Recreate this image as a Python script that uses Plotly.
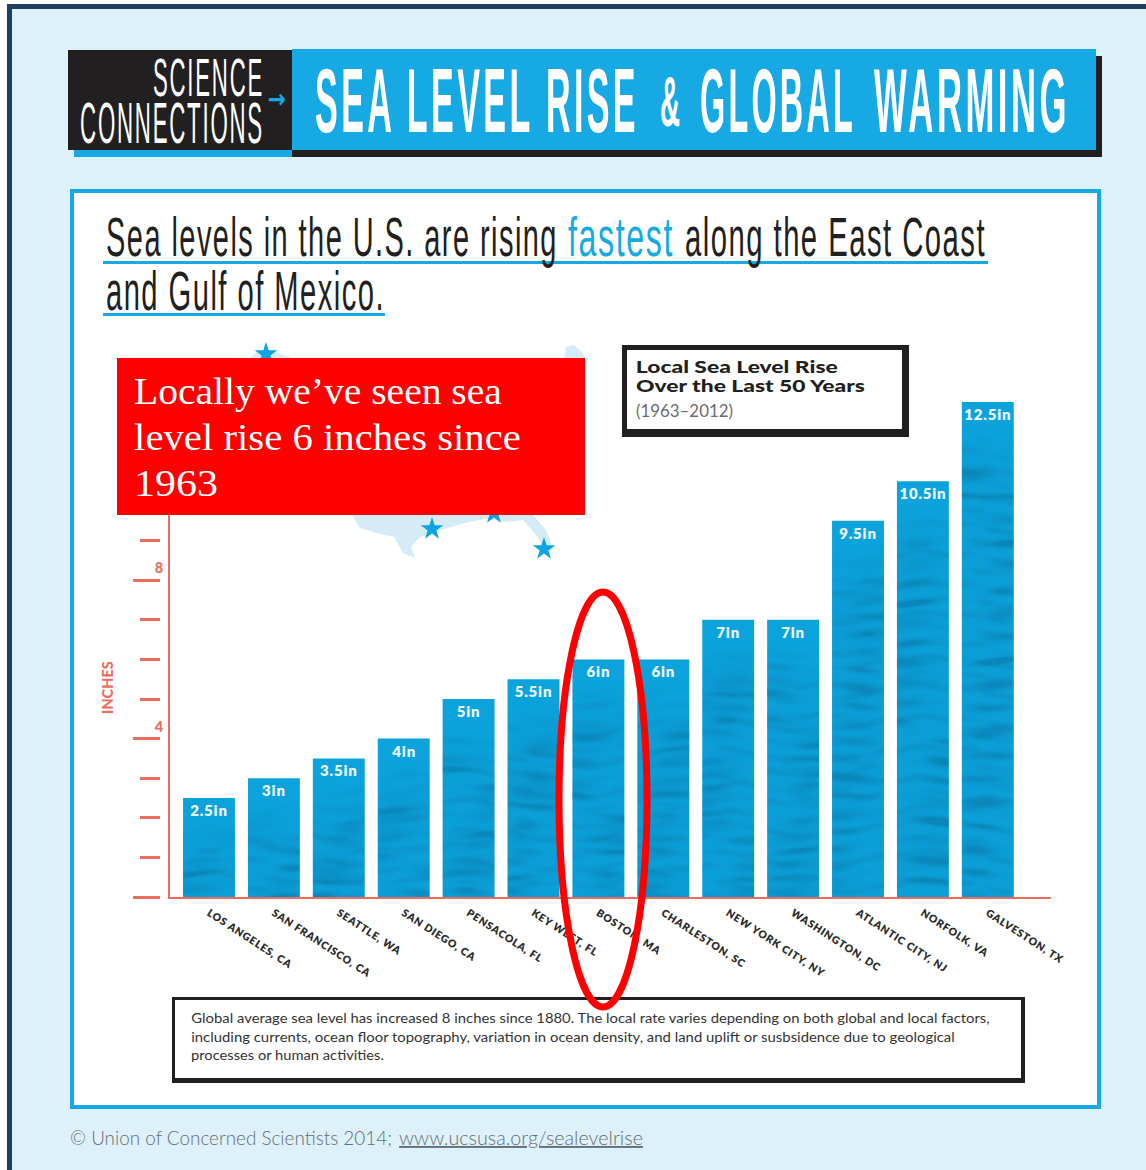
import base64
import json
import struct
import zlib

import numpy as np
import plotly.graph_objects as go

W, H = 1146, 1170

# Chart values
cities = ["LOS ANGELES, CA", "SAN FRANCISCO, CA", "SEATTLE, WA", "SAN DIEGO, CA", "PENSACOLA, FL",
          "KEY WEST, FL", "BOSTON, MA", "CHARLESTON, SC", "NEW YORK CITY, NY", "WASHINGTON, DC",
          "ATLANTIC CITY, NJ", "NORFOLK, VA", "GALVESTON, TX"]
rise_inches = [2.5, 3, 3.5, 4, 5, 5.5, 6, 6, 7, 7, 9.5, 10.5, 12.5]
major_ticks = [0, 4, 8, 12]
major_labels = ["", "4", "8", ""]

# Station markers on the backdrop map, in page pixels
star_x = [266, 432, 494, 544]
star_y = [354, 529, 513, 549]

# Palette
NAVY = "#1f3d63"
PAGE = "#ddf1fb"
CYAN = "#16a9e3"
BAR = "#0ca3dc"
INK = "#211f20"
CORAL = "#ee6b5f"
MAP = "#d5ebf7"
RED = "#ff0000"

NARROW = "Liberation Sans Narrow, Liberation Sans, sans-serif"
SANS = "Lato, sans-serif"
SERIF = "Liberation Serif, serif"


def px(x):
    return x / W


def py(y):
    return 1 - y / H


def rect(x0, y0, x1, y1, fill, layer="below", line=None, lw=0):
    return dict(type="rect", xref="paper", yref="paper", x0=px(x0), x1=px(x1), y0=py(y0), y1=py(y1),
                fillcolor=fill, line=dict(color=line or fill, width=lw), layer=layer)


def poly(points, fill):
    d = "M" + " L".join(f"{px(a):.5f},{py(b):.5f}" for a, b in points) + " Z"
    return dict(type="path", xref="paper", yref="paper", path=d, fillcolor=fill, line=dict(width=0), layer="below")


shapes = [
    rect(7, 5, W + 5, H + 5, PAGE),
    rect(7, 4, W + 5, 9, NAVY),
    rect(7, 4, 12, H + 5, NAVY),
    # masthead
    rect(74, 100, 292, 157, CYAN),
    rect(292, 56, 1102, 157, INK),
    rect(68, 50, 292, 150, INK),
    rect(292, 49, 1096, 150, CYAN),
    # panel
    rect(72, 191, 1099, 1107, "white", line=CYAN, lw=4),
    # heading rules
    rect(103, 261, 988, 264, CYAN),
    rect(103, 313, 385, 316, CYAN),
    # backdrop map fragments
    poly([(250, 358), (258, 351), (275, 352), (292, 358)], MAP),
    poly([(564, 358), (566, 347), (574, 345), (580, 350), (586, 358)], MAP),
    poly([(352, 515), (360, 528), (377, 533), (394, 537), (403, 553), (415, 558), (411, 547),
          (420, 537), (441, 530), (465, 523), (485, 519), (506, 522), (523, 520), (536, 535),
          (549, 555), (553, 548), (546, 530), (533, 515)], MAP),
    # legend frame
    rect(622, 345, 909, 437, INK),
    rect(627, 350, 902, 429, "white"),
    # note frame
    rect(172, 997, 1025, 1083, INK),
    rect(175, 1000, 1021, 1078, "white"),
    # callout and highlight drawn over the chart
    rect(117, 358, 585, 515, RED, layer="above"),
    dict(type="circle", xref="paper", yref="paper", x0=px(559), x1=px(647), y0=py(1007), y1=py(592),
         line=dict(color=RED, width=7), fillcolor="rgba(0,0,0,0)", layer="above"),
]

annotations = []
squeeze = {}
tracking = {}


def label(text, x0, x1, yc, size, color, family, weight=400, track=None, under=False):
    """Place text in the box x0..x1, scaled horizontally to exactly that width."""
    idx = len(annotations)
    squeeze[idx] = x1 - x0
    if track:
        tracking[idx] = track
    font = dict(size=size, color=color, family=family, weight=weight)
    if under:
        font["lineposition"] = "under"
    annotations.append(dict(text=text, xref="paper", yref="paper", x=px((x0 + x1) / 2), y=py(yc),
                            xanchor="center", yanchor="middle", showarrow=False, font=font,
                            width=x1 - x0 + 4, align="center"))


# Masthead
label("SCIENCE", 153, 264, 77, 54, "white", NARROW, track="0.08em")
label("CONNECTIONS", 80, 264, 123, 58, "white", NARROW, track="0.08em")
label("→", 268, 286, 99, 26, CYAN, "DejaVu Sans", 700)
label("SEA LEVEL RISE", 315, 639, 101, 90, "white", NARROW, 700, track="0.1em")
label("&amp;", 660, 680, 102, 70, "white", NARROW, 700)
label("GLOBAL", 700, 856, 101, 90, "white", NARROW, 700, track="0.1em")
label("WARMING", 874, 1070, 101, 90, "white", NARROW, 700, track="0.1em")

# Heading
label("Sea levels in the U.S. are rising", 106, 558, 237, 55, INK, NARROW, track="0.05em")
label("fastest", 568, 674, 237, 55, CYAN, NARROW, track="0.05em")
label("along the East Coast", 685, 986, 237, 55, INK, NARROW, track="0.05em")
label("and Gulf of Mexico.", 106, 385, 291, 55, INK, NARROW, track="0.05em")

# Callout
label("Locally we’ve seen sea", 134, 502, 391, 38, "white", SERIF)
label("level rise 6 inches since", 134, 521, 437, 38, "white", SERIF)
label("1963", 134, 218, 483, 38, "white", SERIF)

# Legend box
label("Local Sea Level Rise", 636, 838, 366, 16, INK, SANS, 900)
label("Over the Last 50 Years", 636, 865, 386, 16, INK, SANS, 900)
label("(1963–2012)", 636, 733, 410, 17, "#6c6c6c", SANS, 400)

# Axis caption
annotations.append(dict(text="INCHES", xref="paper", yref="paper", x=px(107), y=py(688), textangle=-90,
                        xanchor="center", yanchor="middle", showarrow=False,
                        font=dict(size=14.5, color=CORAL, family=SANS, weight=900)))

# Note box
label("Global average sea level has increased 8 inches since 1880. The local rate varies depending on both global and local factors,",
      191, 990, 1018, 13.5, "#333333", SANS)
label("including currents, ocean floor topography, variation in ocean density, and land uplift or susbsidence due to geological",
      191, 955, 1037, 13.5, "#333333", SANS)
label("processes or human activities.", 191, 384, 1055, 13.5, "#333333", SANS)

# Footer
label("© Union of Concerned Scientists 2014;", 70, 392, 1137, 19, "#666d72", SANS, 300)
label("www.ucsusa.org/sealevelrise", 399, 643, 1137, 19, "#666d72", SANS, 300, under=True)


def water_png(width, height, seed):
    """RGBA overlay of soft dark swells, fading in below the top of a bar."""
    yy, xx = np.mgrid[0:height, 0:width].astype(float)
    s = seed * 1.7
    ripple = (np.sin(yy * 0.42 + 1.8 * np.sin(xx * 0.06 + s) + s * 2.1)
              + 0.7 * np.sin(yy * 0.19 + xx * 0.03 + 1.4 * np.sin(xx * 0.09 - s)))
    field = 0.22 * np.clip(ripple, 0, None)
    # Lens-shaped troughs spread along a golden-ratio sequence
    for k in range(int(height / 16) + 2):
        cx = ((k * 0.618 + seed * 0.37) % 1) * width
        cy = ((k * 0.381 + seed * 0.23) % 1) * height
        rx = 14 + 16 * ((k * 0.755) % 1)
        ry = 2.5 + 4.5 * ((k * 0.569) % 1)
        tilt = 0.12 * np.sin(k * 2.4)
        field = field + (0.35 + 0.65 * ((k * 0.43) % 1)) * np.exp(
            -((xx - cx) / rx) ** 2 - ((yy - cy - tilt * (xx - cx)) / ry) ** 2)
    fade = np.clip((yy - 20) / 50, 0, 1)
    alpha = np.clip(field, 0, 1) * 80 * fade + 14 * fade
    rgba = np.zeros((height, width, 4), dtype=np.uint8)
    rgba[..., 0], rgba[..., 1], rgba[..., 2] = 6, 88, 130
    rgba[..., 3] = alpha.astype(np.uint8)
    raw = b"".join(b"\x00" + rgba[r].tobytes() for r in range(height))

    def chunk(tag, body):
        return struct.pack(">I", len(body)) + tag + body + struct.pack(">I", zlib.crc32(tag + body))

    png = (b"\x89PNG\r\n\x1a\n"
           + chunk(b"IHDR", struct.pack(">IIBBBBB", width, height, 8, 6, 0, 0, 0))
           + chunk(b"IDAT", zlib.compress(raw, 9))
           + chunk(b"IEND", b""))
    return "data:image/png;base64," + base64.b64encode(png).decode()


PX_PER_INCH = 39.6
BAR_SHARE = 0.8
positions = list(range(len(cities)))

images = [dict(source=water_png(52, int(round(v * PX_PER_INCH)), i), xref="x", yref="y",
               x=i - BAR_SHARE / 2, y=v, sizex=BAR_SHARE, sizey=v, xanchor="left", yanchor="top",
               sizing="stretch", layer="above")
          for i, v in enumerate(rise_inches)]

fig = go.Figure()
fig.add_bar(x=positions, y=rise_inches, width=BAR_SHARE, marker=dict(color=BAR, line=dict(width=0)),
            texttemplate="%{y}in", textposition="inside", insidetextanchor="end", textangle=0,
            constraintext="none", cliponaxis=False,
            textfont=dict(size=15, color="#e9f7fd", family=SANS, weight=800), hoverinfo="skip")
# Carries the detached tick ruler to the left of the axis line
fig.add_scatter(x=positions, y=rise_inches, yaxis="y2", mode="lines", line=dict(width=0),
                opacity=0, hoverinfo="skip")
fig.add_scatter(x=star_x, y=star_y, xaxis="x3", yaxis="y3", mode="markers", hoverinfo="skip",
                marker=dict(symbol="star", size=17, color="#0ea4e4", line=dict(width=0)))

top_inches = 12.8
y_dom = [py(897), py(897 - top_inches * PX_PER_INCH)]
fig.update_layout(
    width=W, height=H, margin=dict(l=0, r=0, t=0, b=0, autoexpand=False), autosize=False,
    paper_bgcolor="white", plot_bgcolor="rgba(0,0,0,0)", showlegend=False, barmode="overlay",
    shapes=shapes, annotations=annotations, images=images,
    xaxis=dict(domain=[px(170), px(1051)], range=[(170 - 209) / 64.9, (1051 - 209) / 64.9],
               automargin=False, tickmode="array", tickvals=positions, ticktext=cities, tickangle=33,
               ticks="", ticklabelstandoff=4, showgrid=False, zeroline=False, showline=True,
               linecolor=CORAL, linewidth=2,
               tickfont=dict(size=10.5, color="#2b2b2b", family=SANS, weight=800)),
    yaxis=dict(domain=y_dom, range=[0, top_inches], automargin=False, showgrid=False, zeroline=False,
               showline=True, linecolor=CORAL, linewidth=2, ticks="", showticklabels=False),
    yaxis2=dict(domain=y_dom, range=[0, top_inches], overlaying="y", anchor="free", position=px(160),
                automargin=False, side="left", showgrid=False, zeroline=False, showline=False,
                tickmode="array", tickvals=major_ticks, ticktext=major_labels, ticks="outside",
                ticklen=27, tickwidth=2.5, tickcolor=CORAL, ticklabelstandoff=-33, ticklabelshift=-12,
                tickfont=dict(size=14.5, color=CORAL, family=SANS, weight=900),
                minor=dict(tickmode="linear", tick0=0, dtick=1, ticks="outside", ticklen=20,
                           tickwidth=2.5, tickcolor=CORAL, showgrid=False)),
    xaxis3=dict(domain=[0, 1], range=[0, W], visible=False, anchor="y3", automargin=False),
    yaxis3=dict(domain=[0, 1], range=[H, 0], visible=False, anchor="x3", automargin=False),
)

# Fine lettering adjustments once the page has been laid out
post = """
var gd = document.getElementById('{plot_id}');
var fit = %s, track = %s;
gd.querySelectorAll('.annotation [clip-path]').forEach(function (n) {
  n.removeAttribute('clip-path');
});
Object.keys(fit).forEach(function (i) {
  var t = gd.querySelector('.annotation[data-index="' + i + '"] text');
  if (!t) return;
  if (track[i]) t.style.letterSpacing = track[i];
  var cx = parseFloat(t.getAttribute('x')) || 0;
  var sx = fit[i] / t.getComputedTextLength();
  t.setAttribute('transform', 'translate(' + cx + ' 0) scale(' + sx + ' 1) translate(' + (-cx) + ' 0)');
});
gd.querySelectorAll('.xtick text').forEach(function (t) {
  t.style.letterSpacing = '0.75px';
});
gd.querySelectorAll('.bars text').forEach(function (t) {
  t.style.letterSpacing = '0.8px';
});
""" % (json.dumps(squeeze), json.dumps(tracking))

fig.write_html("out.html", post_script=post)
